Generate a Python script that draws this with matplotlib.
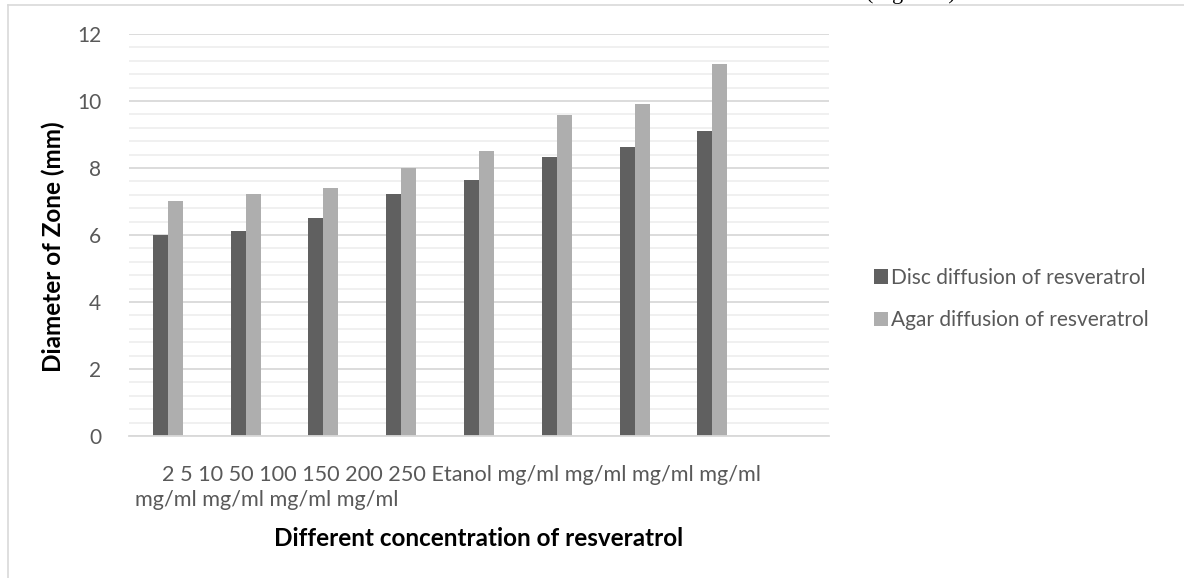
import numpy as np
import matplotlib.pyplot as plt
from matplotlib.lines import Line2D
from matplotlib.ticker import MultipleLocator

plt.rcParams['font.family'] = ['Lato', 'DejaVu Sans']

concentrations = ['2', '5', '10', '50', '100', '150', '200', '250', 'Etanol']
unit_words = ['mg/ml'] * 8
disc = [6.0, 6.13, 6.51, 7.22, 7.63, 8.33, 8.62, 9.11, 0]
agar = [7.01, 7.22, 7.41, 8.01, 8.5, 9.59, 9.91, 11.1, 0]
series_names = ['Disc diffusion of resveratrol', 'Agar diffusion of resveratrol']

dark = '#606060'
light = '#aeaeae'
tick_col = '#595959'

fig = plt.figure(figsize=(11.84, 5.78), dpi=100)
ax = fig.add_axes([129 / 1184, 1 - 436 / 578, 700 / 1184, 402 / 578])

x = np.arange(len(concentrations))
w = 0.193
b1 = ax.bar(x - w / 2, disc, w, color=dark, label=series_names[0])
b2 = ax.bar(x + w / 2, agar, w, color=light, label=series_names[1])

ax.set_xlim(-0.5, len(concentrations) - 0.5)
ax.set_ylim(0, 12)
ax.yaxis.set_major_locator(MultipleLocator(2))
ax.yaxis.set_minor_locator(MultipleLocator(0.4))
ax.grid(axis='y', which='major', color='#d9d9d9', lw=1.3)
ax.grid(axis='y', which='minor', color='#efefef', lw=1.3)
ax.set_axisbelow(True)
for s in ['top', 'right', 'left']:
    ax.spines[s].set_visible(False)
ax.spines['bottom'].set_color('#d9d9d9')
ax.spines['bottom'].set_linewidth(1.3)
ax.set_xticks([])
ax.tick_params(axis='y', which='both', length=0, labelsize=15, labelcolor=tick_col, pad=20)

# category labels come out as one wrapped string in the original
words = concentrations + unit_words
line1 = ' '.join(words[:13])
line2 = ' '.join(words[13:])
fig.text(162 / 1184, 1 - 475 / 578, line1, fontsize=15.6, color=tick_col, va='center', ha='left')
fig.text(135 / 1184, 1 - 500 / 578, line2, fontsize=15.6, color=tick_col, va='center', ha='left')

fig.text(479 / 1184, 1 - 538 / 578, 'Different concentration of resveratrol',
         fontsize=17.5, fontweight='bold', ha='center', va='center')
fig.text(53 / 1184, 1 - 247 / 578, 'Diameter of Zone (mm)', fontsize=17.5,
         fontweight='bold', rotation=90, ha='center', va='center')

leg = fig.legend(handles=[b1, b2], loc='center left', bbox_to_anchor=(855 / 1184, 1 - 299 / 578),
                 frameon=False, fontsize=15, handlelength=0.7, handleheight=0.7,
                 handletextpad=0.15, labelspacing=1.1)
for t in leg.get_texts():
    t.set_color(tick_col)

# chart border and clipped caption above
fig.add_artist(Line2D([8 / 1184, 8 / 1184], [0, 1 - 5 / 578], color='#d9d9d9', lw=1.2, transform=fig.transFigure))
fig.add_artist(Line2D([8 / 1184, 1], [1 - 5 / 578, 1 - 5 / 578], color='#d9d9d9', lw=1.2, transform=fig.transFigure))
fig.text(866 / 1184, 1 + 0.5 / 578, '(Figure 1)', fontsize=16, family='Liberation Serif',
         ha='left', va='baseline')

fig.savefig('out.png', dpi=100)
